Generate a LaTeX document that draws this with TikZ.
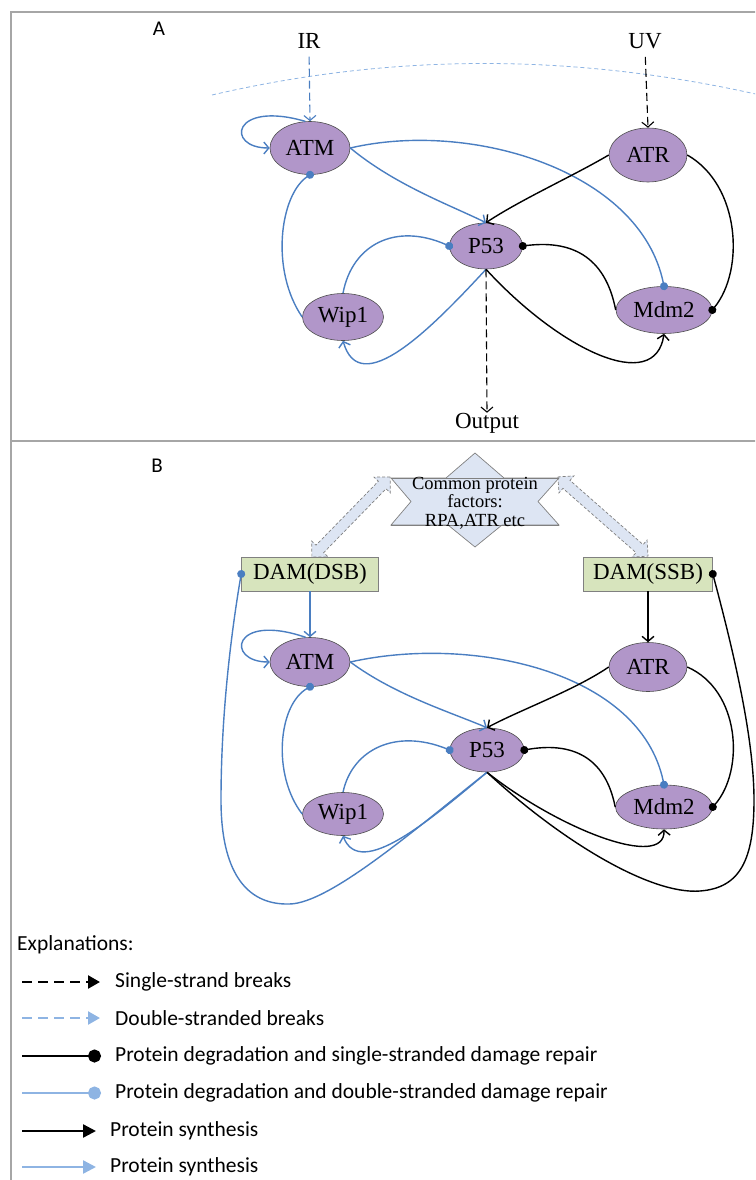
\documentclass[tikz,border=0pt]{standalone}
\usepackage{fontspec}
\setmainfont{Liberation Serif}
\newfontfamily\calib{Carlito}
\usetikzlibrary{arrows.meta,shapes.geometric,shapes.arrows}
\definecolor{nodefill}{HTML}{B196C9}
\definecolor{nodeline}{HTML}{4D4D4D}
\definecolor{dblue}{HTML}{4A7EC1}
\definecolor{lblue}{HTML}{8EB4E3}
\definecolor{framegray}{HTML}{A6A6A6}
\definecolor{boxfill}{HTML}{D7E4BD}
\definecolor{starfill}{HTML}{DDE5F3}
\tikzset{
 prot/.style={ellipse, draw=nodeline, line width=0.6pt, fill=nodefill, inner sep=0pt, font=\fontsize{23}{23}\selectfont},
 dam/.style={rectangle, draw=gray, line width=0.6pt, fill=boxfill, inner sep=0pt, minimum height=34pt, font=\fontsize{23}{23}\selectfont},
 lbl/.style={font=\fontsize{23}{23}\selectfont, inner sep=0pt},
 bl/.style={draw=dblue, line width=1.4pt},
 bk/.style={draw=black, line width=1.4pt},
 act/.style={-{Straight Barb[length=5pt,width=12pt]}},
 inh/.style={-{Circle[length=8pt]}, shorten >=-4pt},
 brk/.style={dash pattern=on 8pt off 4pt},
 leg/.style={line width=2.4pt},
 legtxt/.style={anchor=west, inner sep=0pt, font=\calib\fontsize{21.5}{21.5}\selectfont},
 darrow/.style={double arrow, draw=gray, dash pattern=on 3pt off 2pt, fill=starfill, line width=0.7pt, inner sep=5pt, minimum width=22pt, double arrow head extend=6pt, double arrow head indent=0pt},
}
\begin{document}
\begin{tikzpicture}[x=1pt,y=-1pt]
\useasboundingbox (0,0) rectangle (755,1180);
\clip (0,0) rectangle (755,1180);
% frame
\draw[framegray, line width=1.5pt] (11,1180) -- (11,12) -- (760,12);
\draw[framegray, line width=1.5pt] (11,441) -- (760,441);

%%%%%%%% Panel A
\node[font=\calib\fontsize{21}{21}\selectfont] (labA) at (159,29) {A};
\draw[lblue, line width=0.8pt, dash pattern=on 4pt off 3pt] (212,95) .. controls (393,53) and (574,53) .. (760,95);
\node[lbl] (IR) at (309,41) {IR};
\node[lbl] (UV) at (645,41) {UV};
\node[prot, minimum width=80pt, minimum height=53pt] (ATMa) at (310,148) {ATM};
\node[prot, minimum width=78pt, minimum height=54pt] (ATRa) at (648,155) {ATR};
\node[prot, minimum width=73pt, minimum height=46pt] (P53a) at (486,246) {P53};
\node[prot, minimum width=81pt, minimum height=47pt] (Wip1a) at (343,317) {Wip1};
\node[prot, minimum width=96pt, minimum height=47pt] (Mdm2a) at (664,310) {Mdm2};
\node[lbl] (Out) at (487,423) {Output};

\draw[bl, line width=1.1pt, brk, act, shorten <=8pt] (IR.south) -- (ATMa.north);
\draw[bk, line width=1.1pt, brk, act, shorten <=8pt] (UV.south) -- (ATRa.north);
\draw[bl, act] (ATMa.100) .. controls (232,100) and (225,148) .. (ATMa.west);
\draw[bl, act] (ATMa.east) .. controls (395,185) and (450,205) .. (P53a.north);
\draw[bl, inh] (ATMa.east) .. controls (470,120) and (640,170) .. (Mdm2a.north);
\draw[bl, inh] (Wip1a.west) .. controls (270,270) and (280,195) .. (ATMa.south);
\draw[bl, inh] (Wip1a.north) .. controls (352,245) and (395,222) .. (P53a.west);
\draw[bl, act] (P53a.south) .. controls (430,330) and (360,400) .. (Wip1a.south);
\draw[bk, act] (ATRa.west) .. controls (575,175) and (520,200) .. (P53a.north);
\draw[bk, inh] (ATRa.east) .. controls (740,185) and (745,270) .. (Mdm2a.east);
\draw[bk, inh] (Mdm2a.west) .. controls (605,255) and (570,240) .. (P53a.east);
\draw[bk, act] (P53a.south) .. controls (560,350) and (655,395) .. (Mdm2a.south);
\draw[bk, line width=1.1pt, brk, act] (P53a.south) -- (Out.north);

%%%%%%%% Panel B
\node[font=\calib\fontsize{21}{21}\selectfont] (labB) at (157,466) {B};
\node[darrow, minimum height=112pt, rotate=45.7] (darrL) at (351,517) {};
\node[darrow, minimum height=120pt, rotate=138.7] (darrR) at (603,516.5) {};
\draw[draw=gray, fill=starfill, line width=0.7pt] (475,453) -- (504,478) -- (559,478) -- (538,501.5) -- (559,525) -- (502,525) -- (475,547) -- (448,525) -- (391,525) -- (411,501.5) -- (391,478) -- (446,478) -- cycle;
\draw[gray, line width=0.7pt] (391,478) -- (559,478) (391,525) -- (559,525);
\node[align=center, inner sep=0pt, font=\fontsize{18.5}{18.5}\selectfont] (common) at (475,503) {Common protein\\factors:\\RPA,ATR etc};
\node[dam, minimum width=137pt] (DSB) at (310,574) {DAM(DSB)};
\node[dam, minimum width=129pt] (SSB) at (648,574) {DAM(SSB)};

\node[prot, minimum width=80pt, minimum height=49pt] (ATMb) at (310,662) {ATM};
\node[prot, minimum width=78pt, minimum height=49pt] (ATRb) at (648,667) {ATR};
\node[prot, minimum width=74pt, minimum height=44pt] (P53b) at (487,750) {P53};
\node[prot, minimum width=81pt, minimum height=43pt] (Wip1b) at (343,814) {Wip1};
\node[prot, minimum width=97pt, minimum height=44pt] (Mdm2b) at (664,807) {Mdm2};

\coordinate (dsbLow) at (289,904);
\coordinate (dsbMid) at (221,800);
\coordinate (ssbLow) at (700,891);
\coordinate (ssbMid) at (754,800);

\draw[bl, act] (DSB.south) -- (ATMb.north);
\draw[bk, act] (SSB.south) -- (ATRb.north);
\draw[bl, act] (ATMb.100) .. controls (232,612) and (225,662) .. (ATMb.west);
\draw[bl, act] (ATMb.east) .. controls (395,695) and (450,712) .. (P53b.north);
\draw[bl, inh] (ATMb.east) .. controls (470,635) and (640,670) .. (Mdm2b.north);
\draw[bl, inh] (Wip1b.west) .. controls (272,775) and (278,705) .. (ATMb.south);
\draw[bl, inh] (Wip1b.north) .. controls (352,750) and (395,728) .. (P53b.west);
\draw[bl, act] (P53b.south) .. controls (430,820) and (360,880) .. (Wip1b.south);
\draw[bl, inh] (P53b.south) .. controls (420,825) and (330,904) .. (dsbLow) .. controls (245,905) and (221,870) .. (dsbMid) .. controls (221,720) and (230,640) .. (DSB.west);
\draw[bk, act] (ATRb.west) .. controls (575,690) and (520,710) .. (P53b.north);
\draw[bk, inh] (ATRb.east) .. controls (740,690) and (745,770) .. (Mdm2b.east);
\draw[bk, inh] (Mdm2b.west) .. controls (605,755) and (570,742) .. (P53b.east);
\draw[bk, act] (P53b.south) .. controls (560,830) and (665,870) .. (Mdm2b.south);
\draw[bk, inh] (P53b.south) .. controls (560,840) and (650,895) .. (ssbLow) .. controls (740,888) and (754,860) .. (ssbMid) .. controls (754,740) and (735,657) .. (SSB.east);

%%%%%%%% Legend
\node[legtxt] (expl) at (17,945) {Explanations:};
\coordinate (l1s) at (22,982);  \coordinate (l1e) at (100,982);
\coordinate (l2s) at (22,1018); \coordinate (l2e) at (100,1018);
\coordinate (l3s) at (22,1056); \coordinate (l3e) at (101,1056);
\coordinate (l4s) at (22,1093); \coordinate (l4e) at (101,1093);
\coordinate (l5s) at (22,1131); \coordinate (l5e) at (96,1131);
\coordinate (l6s) at (22,1167); \coordinate (l6e) at (96,1167);
\draw[leg, black, dash pattern=on 10pt off 6pt, -{Triangle[length=12pt,width=13pt]}] (l1s) -- (l1e);
\draw[leg, lblue, dash pattern=on 10pt off 6pt, -{Triangle[length=12pt,width=13pt]}] (l2s) -- (l2e);
\draw[leg, black, -{Circle[length=13pt]}] (l3s) -- (l3e);
\draw[leg, lblue, -{Circle[length=13pt]}] (l4s) -- (l4e);
\draw[leg, black, -{Triangle[length=13pt,width=13pt]}] (l5s) -- (l5e);
\draw[leg, lblue, -{Triangle[length=13pt,width=13pt]}] (l6s) -- (l6e);
\node[legtxt] (t1) at (115,982) {Single-strand breaks};
\node[legtxt] (t2) at (115,1018) {Double-stranded breaks};
\node[legtxt] (t3) at (115,1056) {Protein degradation and single-stranded damage repair};
\node[legtxt] (t4) at (115,1093) {Protein degradation and double-stranded damage repair};
\node[legtxt] (t5) at (110,1131) {Protein synthesis};
\node[legtxt] (t6) at (110,1167) {Protein synthesis};
\end{tikzpicture}
\end{document}
